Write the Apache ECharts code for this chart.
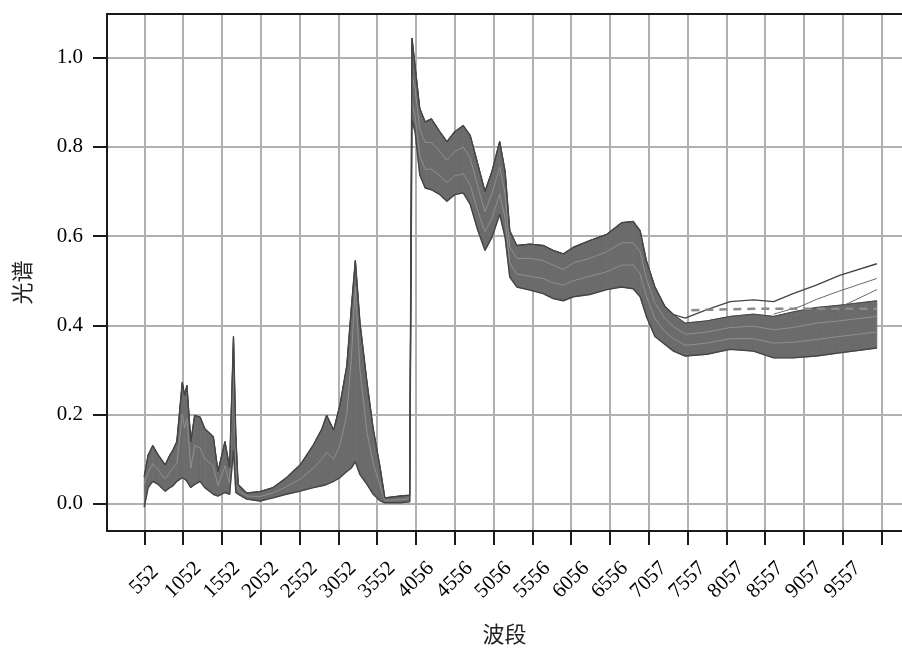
<!DOCTYPE html>
<html><head><meta charset="utf-8">
<script src="https://cdn.jsdelivr.net/npm/echarts@6/dist/echarts.min.js"></script>
<style>html,body{margin:0;padding:0;background:#fff}#c{width:902px;height:650px}</style>
</head><body><div id="c"></div>
<script>
// band index positions (tick every 50 samples)
const bandPos = [0,5,11,18,27,33,37,42,49,52,55,60,65,72,78,89,95,104,110,115,118,121,132,149,166,183,201,218,229,235,244,252,261,267,272,278,287,295,304,310,330,342,
  345,349,355,362,370,381,390,400,411,420,430,439,448,458,465,471,480,497,514,527,540,553,574,596,615,630,639,647,658,671,682,697,725,755,785,811,836,866,896,944];
// upper envelope of all spectra
const upperEnv = [0.061,0.109,0.13,0.109,0.087,0.109,0.12,0.139,0.272,0.243,0.265,0.139,0.198,0.194,0.168,0.15,0.072,0.139,0.08,0.375,0.15,0.043,0.024,0.027,0.036,0.058,0.087,0.132,0.168,0.198,0.165,0.22,0.309,0.442,0.545,0.405,0.272,0.168,0.08,0.013,0.017,0.019,
  1.044,0.981,0.886,0.856,0.863,0.834,0.812,0.834,0.848,0.826,0.76,0.70,0.745,0.812,0.745,0.612,0.579,0.582,0.579,0.568,0.56,0.575,0.59,0.604,0.63,0.633,0.612,0.545,0.486,0.442,0.424,0.416,0.435,0.453,0.457,0.453,0.471,0.49,0.512,0.538];
// top of the dense main bundle
const mainTop = [0.061,0.109,0.13,0.109,0.087,0.109,0.12,0.139,0.272,0.243,0.265,0.139,0.198,0.194,0.168,0.15,0.072,0.139,0.08,0.375,0.15,0.043,0.024,0.027,0.036,0.058,0.087,0.132,0.168,0.198,0.165,0.22,0.309,0.442,0.545,0.405,0.272,0.168,0.08,0.013,0.017,0.019,
  1.044,0.981,0.886,0.856,0.863,0.834,0.812,0.834,0.848,0.826,0.76,0.70,0.745,0.812,0.745,0.612,0.579,0.582,0.579,0.568,0.56,0.575,0.59,0.604,0.63,0.633,0.612,0.545,0.486,0.442,0.424,0.405,0.41,0.42,0.425,0.42,0.43,0.44,0.445,0.455];
// lower envelope of all spectra
const lowerEnv = [-0.008,0.036,0.05,0.043,0.028,0.036,0.04,0.05,0.058,0.055,0.05,0.036,0.043,0.05,0.036,0.021,0.017,0.025,0.021,0.12,0.025,0.021,0.01,0.006,0.013,0.021,0.028,0.036,0.04,0.043,0.05,0.058,0.072,0.08,0.094,0.065,0.043,0.021,0.006,0.002,0.002,0.004,
  0.86,0.834,0.737,0.708,0.704,0.693,0.678,0.693,0.697,0.671,0.612,0.568,0.597,0.649,0.597,0.508,0.486,0.479,0.471,0.46,0.455,0.464,0.469,0.48,0.486,0.482,0.464,0.42,0.375,0.357,0.342,0.331,0.335,0.346,0.342,0.327,0.327,0.331,0.338,0.349];
// two lighter spectra visible inside the bundle
const streakA = [0.045,0.07,0.09,0.075,0.055,0.07,0.08,0.09,0.2,0.17,0.19,0.08,0.13,0.125,0.1,0.085,0.04,0.085,0.045,0.31,0.09,0.03,0.017,0.016,0.024,0.038,0.055,0.08,0.1,0.115,0.1,0.13,0.2,0.33,0.486,0.3,0.16,0.09,0.04,0.007,0.009,0.011,
  0.96,0.93,0.84,0.81,0.81,0.79,0.77,0.79,0.80,0.775,0.71,0.655,0.695,0.755,0.695,0.575,0.55,0.55,0.545,0.535,0.525,0.54,0.55,0.565,0.585,0.585,0.565,0.505,0.45,0.415,0.397,0.38,0.385,0.395,0.398,0.39,0.395,0.405,0.41,0.42];
const streakBPos = [345,349,355,362,370,381,390,400,411,420,430,439,448,458,465,471,480,497,514,527,540,553,574,596,615,630,639,647,658,671,682,697,725,755,785,811,836,866,896,944];
const streakB = [0.90,0.87,0.78,0.75,0.75,0.735,0.72,0.735,0.74,0.715,0.655,0.61,0.64,0.695,0.64,0.54,0.515,0.51,0.505,0.495,0.49,0.50,0.51,0.52,0.535,0.535,0.515,0.465,0.415,0.385,0.37,0.355,0.36,0.37,0.37,0.36,0.362,0.368,0.375,0.385];
// diverging single spectra at the long-wave end
const branchAPos = [811,845,866,896,944];
const branchAVal = [0.425,0.442,0.458,0.477,0.505];
const branchBPos = [836,870,896,944];
const branchBVal = [0.415,0.42,0.44,0.48];
const dashPos = [705,785,860,944];
const dashVal = [0.434,0.437,0.437,0.437];
// axis ticks
const xTickValues = [0,50,100,150,200,250,300,350,400,450,500,550,600,650,700,750,800,850,900,950];
const xTickLabels = ['552','1052','1552','2052','2552','3052','3552','4056','4556','5056','5556','6056','6556','7057','7557','8057','8557','9057','9557'];
const yTickValues = [0,0.2,0.4,0.6,0.8,1.0];

const zip = (xs, ys) => xs.map((x, i) => [x, ys[i]]);
const bandData = bandPos.map((x, i) => [x, lowerEnv[i], mainTop[i]]);
const edge = '#454545';
const fillCol = '#6b6b6b';
const frame = '#1a1a1a';
const xMin = -48, xMax = 976.4;
const lineBase = {type:'line', symbol:'none', silent:true, animation:false};

const chart = echarts.init(document.getElementById('c'), null, {renderer:'canvas'});
chart.setOption({
  backgroundColor:'#fff',
  animation:false,
  grid:{left:107, top:14, right:0, bottom:113, show:false},
  xAxis:[{
    type:'value', min:xMin, max:xMax,
    axisLine:{onZero:false, lineStyle:{color:frame, width:2}},
    axisTick:{show:true, customValues:xTickValues, length:14, lineStyle:{color:frame, width:2}},
    axisLabel:{customValues:xTickValues.slice(0, xTickLabels.length), formatter:v => xTickLabels[Math.round(v/50)] || '',
      rotate:45, align:'center', verticalAlign:'middle', margin:49, fontFamily:'Liberation Serif', fontSize:21, color:'#000'},
    splitLine:{show:true, lineStyle:{color:'#b0b0b0', width:2}},
    name:'波段', nameLocation:'middle', nameGap:92,
    nameTextStyle:{fontFamily:'Noto Sans CJK SC', fontSize:22, color:'#222', padding:[0,0,0,0]}
  },{
    type:'value', position:'top', min:xMin, max:xMax,
    axisLine:{show:true, onZero:false, lineStyle:{color:frame, width:2}},
    axisTick:{show:false}, axisLabel:{show:false}, splitLine:{show:false}
  }],
  yAxis:{
    type:'value', min:-0.0614, max:1.0982,
    axisLine:{show:true, onZero:false, lineStyle:{color:frame, width:2}},
    axisTick:{show:true, customValues:yTickValues, length:14, lineStyle:{color:frame, width:2}},
    axisLabel:{customValues:yTickValues, formatter:v => v.toFixed(1), margin:24, fontFamily:'Liberation Serif', fontSize:21, color:'#000'},
    splitLine:{show:true, lineStyle:{color:'#b0b0b0', width:2}},
    name:'光谱', nameLocation:'middle', nameGap:74,
    nameTextStyle:{fontFamily:'Noto Sans CJK SC', fontSize:22, color:'#222', padding:[0,20,0,0]}
  },
  series:[
    {type:'custom', silent:true, animation:false, clip:true, data:bandData, encode:{x:0, y:[1,2]},
      renderItem:function(params, api){
        const i = params.dataIndex;
        if (i >= bandData.length - 1) return null;
        const a = bandData[i], b = bandData[i+1];
        const pts = [api.coord([a[0], a[1]]), api.coord([b[0], b[1]]), api.coord([b[0], b[2]]), api.coord([a[0], a[2]])];
        return {type:'polygon', shape:{points:pts}, style:{fill:fillCol, stroke:fillCol, lineWidth:0.8}};
      }},
    Object.assign({}, lineBase, {name:'streakA', data:zip(bandPos, streakA), lineStyle:{color:'#8f8f8f', width:1}}),
    Object.assign({}, lineBase, {name:'streakB', data:zip(streakBPos, streakB), lineStyle:{color:'#8f8f8f', width:1}}),
    Object.assign({}, lineBase, {name:'top', data:zip(bandPos, upperEnv), lineStyle:{color:edge, width:1.4}}),
    Object.assign({}, lineBase, {name:'mainTop', data:zip(bandPos, mainTop), lineStyle:{color:edge, width:1}}),
    Object.assign({}, lineBase, {name:'bottom', data:zip(bandPos, lowerEnv), lineStyle:{color:edge, width:1.4}}),
    Object.assign({}, lineBase, {name:'a', data:zip(branchAPos, branchAVal), lineStyle:{color:'#6a6a6a', width:1}}),
    Object.assign({}, lineBase, {name:'b', data:zip(branchBPos, branchBVal), lineStyle:{color:'#6a6a6a', width:1}}),
    Object.assign({}, lineBase, {name:'dash', data:zip(dashPos, dashVal), lineStyle:{color:'#8a8a8a', width:2.5, type:[8,6]}})
  ]
});
</script>
</body></html>
